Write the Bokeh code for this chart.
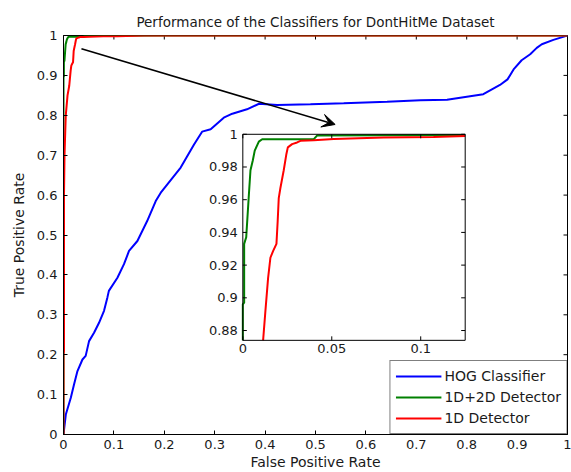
import numpy as np
from bokeh.plotting import figure
from bokeh.models import (Range1d, Legend, LegendItem, Arrow, VeeHead, FixedTicker)
from bokeh.core.properties import value
from bokeh.embed import file_html
from bokeh.resources import INLINE

# ---------------- data ----------------
title_text = "Performance of the Classifiers for DontHitMe Dataset"
x_label = "False Positive Rate"
y_label = "True Positive Rate"
series_names = ["HOG Classifier", "1D+2D Detector", "1D Detector"]

main_ticks = [0, 0.1, 0.2, 0.3, 0.4, 0.5, 0.6, 0.7, 0.8, 0.9, 1]
main_tick_labels = ["0", "0.1", "0.2", "0.3", "0.4", "0.5", "0.6", "0.7", "0.8", "0.9", "1"]

inset_x_domain = [0.0, 0.125]
inset_y_domain = [0.874, 1.0]
inset_x_ticks = [0, 0.05, 0.1]
inset_x_tick_labels = ["0", "0.05", "0.1"]
inset_y_ticks = [0.88, 0.9, 0.92, 0.94, 0.96, 0.98, 1.0]
inset_y_tick_labels = ["0.88", "0.9", "0.92", "0.94", "0.96", "0.98", "1"]

hog_fpr = [0, 0.0046, 0.0145, 0.021, 0.0277, 0.0376, 0.044, 0.0507, 0.0606, 0.0705,
           0.0804, 0.087, 0.09, 0.107, 0.12, 0.13, 0.1466, 0.166, 0.183, 0.193,
           0.2325, 0.259, 0.275, 0.292, 0.318, 0.335, 0.364, 0.388, 0.424, 0.49,
           0.556, 0.642, 0.708, 0.761, 0.833, 0.85, 0.866, 0.881, 0.893, 0.909,
           0.926, 0.939, 0.949, 0.972, 0.998, 1.0]
hog_tpr = [0, 0.05, 0.092, 0.126, 0.159, 0.188, 0.197, 0.234, 0.255, 0.28,
           0.31, 0.343, 0.36, 0.393, 0.427, 0.46, 0.485, 0.535, 0.585, 0.606,
           0.669, 0.727, 0.759, 0.765, 0.794, 0.804, 0.815, 0.829, 0.826, 0.8275,
           0.830, 0.834, 0.838, 0.839, 0.853, 0.865, 0.876, 0.89, 0.915, 0.938,
           0.953, 0.969, 0.978, 0.989, 0.999, 1.0]

det12_fpr = [0, 0, 0.00075, 0.00075, 0.0019, 0.0034, 0.0043, 0.0056, 0.0067, 0.009,
             0.0109, 0.0399, 0.0417, 0.2, 1.0]
det12_tpr = [0, 0.896, 0.897, 0.933, 0.937, 0.963, 0.978, 0.984, 0.990, 0.9955,
             0.997, 0.997, 0.9992, 1.0, 1.0]

det1_fpr = [0, 0, 0.001, 0.001, 0.002, 0.0045, 0.008, 0.0114, 0.0127, 0.0142, 0.0155,
            0.017, 0.0189, 0.0196, 0.0202, 0.0211, 0.023, 0.0245, 0.0253, 0.0277,
            0.0305, 0.0324, 0.0399, 0.0511, 0.0792, 0.1072, 0.16, 1.0]
det1_tpr = [0, 0.2, 0.21, 0.6, 0.7, 0.8, 0.85, 0.874, 0.892, 0.912, 0.9245,
            0.9286, 0.933, 0.947, 0.961, 0.967, 0.978, 0.988, 0.992, 0.994,
            0.995, 0.996, 0.9963, 0.9971, 0.998, 0.9984, 1.0, 1.0]

arrow_from = [0.0356, 0.967]
arrow_to = [0.539, 0.777]

# ---------------- layout / style ----------------
W, H = 571, 472
BL, BR, BT, BB = 63, 4, 35, 38
FRAME_W = W - BL - BR
FRAME_H = H - BT - BB
IX0, IX1 = 0.3558, 0.797      # inset box, fraction of main frame
IY0, IY1 = 0.236, 0.7524
TICK_PX = 4
FONT = "DejaVu Sans"
TXT = "#1a1a1a"
BLUE, GREEN, RED = "#0000ff", "#008000", "#ff0000"
LW = 2

p = figure(width=W, height=H, x_range=Range1d(0, 1), y_range=Range1d(0, 1),
           output_backend="svg", toolbar_location=None,
           min_border_left=BL, min_border_right=BR, min_border_top=BT,
           min_border_bottom=BB, background_fill_color="white",
           border_fill_color="white")
p.outline_line_color = "black"
p.xgrid.grid_line_color = None
p.ygrid.grid_line_color = None

p.title.text = title_text
p.title.align = "center"
p.title.text_font = FONT
p.title.text_font_size = "13.5px"
p.title.text_font_style = "normal"
p.title.text_color = TXT
p.title.standoff = 12

for ax in (p.xaxis[0], p.yaxis[0]):
    ax.ticker = FixedTicker(ticks=main_ticks)
    ax.major_label_overrides = {t: s for t, s in zip(main_ticks, main_tick_labels)}
    ax.major_tick_in = TICK_PX
    ax.major_tick_out = 0
    ax.minor_tick_line_color = None
    ax.axis_line_color = "black"
    ax.major_tick_line_color = "black"
    ax.major_label_text_font = FONT
    ax.major_label_text_font_size = "13px"
    ax.major_label_text_color = TXT
    ax.axis_label_text_font = FONT
    ax.axis_label_text_font_size = "14px"
    ax.axis_label_text_font_style = "normal"
    ax.axis_label_text_color = TXT

xa = p.xaxis[0]
ya = p.yaxis[0]
xa.axis_label = x_label
ya.axis_label = y_label
xa.major_label_standoff = 5
xa.axis_label_standoff = 2
ya.major_label_standoff = 6
ya.axis_label_standoff = 7

# inner ticks on the top and right edges of the main box
mtx = TICK_PX / FRAME_W
mty = TICK_PX / FRAME_H
n = len(main_ticks)
p.segment(x0=main_ticks, x1=main_ticks, y0=[1 - mty] * n, y1=[1] * n,
          line_color="black", line_width=1)
p.segment(x0=[1 - mtx] * n, x1=[1] * n, y0=main_ticks, y1=main_ticks,
          line_color="black", line_width=1)

# ---------------- main curves ----------------
r_hog = p.line(hog_fpr, hog_tpr, line_color=BLUE, line_width=LW)
r_12 = p.line(det12_fpr, det12_tpr, line_color=GREEN, line_width=LW)
r_1 = p.line(det1_fpr, det1_tpr, line_color=RED, line_width=LW)

# ---------------- arrow ----------------
p.add_layout(Arrow(end=VeeHead(size=13, fill_color="black", line_color="black"),
                   x_start=arrow_from[0], y_start=arrow_from[1],
                   x_end=arrow_to[0], y_end=arrow_to[1],
                   line_color="black", line_width=1.6))

# ---------------- inset (extra ranges mapped into a sub-box) ----------------
xd0, xd1 = inset_x_domain
yd0, yd1 = inset_y_domain
sx = (xd1 - xd0) / (IX1 - IX0)
sy = (yd1 - yd0) / (IY1 - IY0)
p.extra_x_ranges = {"ix": Range1d(xd0 - IX0 * sx, xd1 + (1 - IX1) * sx)}
p.extra_y_ranges = {"iy": Range1d(yd0 - IY0 * sy, yd1 + (1 - IY1) * sy)}
kw = dict(x_range_name="ix", y_range_name="iy")

p.quad(left=[xd0], right=[xd1], bottom=[yd0], top=[yd1], fill_color="white",
       line_color=None, **kw)

def clip_monotone(xs, ys, xmax, ymin):
    xs = np.asarray(xs, float)
    ys = np.asarray(ys, float)
    inside = (ys >= ymin) & (xs <= xmax)
    idx = np.where(inside)[0]
    a, b = idx[0], idx[-1]
    ox = list(xs[a:b + 1])
    oy = list(ys[a:b + 1])
    if a > 0 and ys[a] > ymin:
        t = (ymin - ys[a - 1]) / (ys[a] - ys[a - 1])
        ox.insert(0, xs[a - 1] + t * (xs[a] - xs[a - 1]))
        oy.insert(0, ymin)
    if b < len(xs) - 1 and xs[b] < xmax:
        t = (xmax - xs[b]) / (xs[b + 1] - xs[b])
        ox.append(xmax)
        oy.append(ys[b] + t * (ys[b + 1] - ys[b]))
    return ox, oy

gx, gy = clip_monotone(det12_fpr, det12_tpr, xd1, yd0)
rx, ry = clip_monotone(det1_fpr, det1_tpr, xd1, yd0)
p.line(gx, gy, line_color=GREEN, line_width=LW, **kw)
p.line(rx, ry, line_color=RED, line_width=LW, **kw)

p.quad(left=[xd0], right=[xd1], bottom=[yd0], top=[yd1], fill_color=None,
       line_color="black", line_width=1, **kw)

tlx = TICK_PX * sx / FRAME_W
tly = TICK_PX * sy / FRAME_H
yt = list(inset_y_ticks)
xt = list(inset_x_ticks)
p.segment(x0=[xd0] * len(yt), x1=[xd0 + tlx] * len(yt), y0=yt, y1=yt,
          line_color="black", line_width=1, **kw)
p.segment(x0=[xd1 - tlx] * len(yt), x1=[xd1] * len(yt), y0=yt, y1=yt,
          line_color="black", line_width=1, **kw)
p.segment(x0=xt, x1=xt, y0=[yd0] * len(xt), y1=[yd0 + tly] * len(xt),
          line_color="black", line_width=1, **kw)
p.segment(x0=xt, x1=xt, y0=[yd1 - tly] * len(xt), y1=[yd1] * len(xt),
          line_color="black", line_width=1, **kw)

p.text(x=[xd0] * len(yt), y=yt, text=inset_y_tick_labels, x_offset=-5,
       text_align="right", text_baseline="middle", text_font=value(FONT),
       text_font_size="13px", text_color=TXT, **kw)
p.text(x=xt, y=[yd0] * len(xt), text=inset_x_tick_labels, y_offset=4,
       text_align="center", text_baseline="top", text_font=value(FONT),
       text_font_size="13px", text_color=TXT, **kw)

# ---------------- legend ----------------
legend = Legend(items=[LegendItem(label=series_names[0], renderers=[r_hog]),
                       LegendItem(label=series_names[1], renderers=[r_12]),
                       LegendItem(label=series_names[2], renderers=[r_1])],
                location="bottom_right", margin=0, padding=5, spacing=1,
                glyph_width=46, glyph_height=20, label_height=20, label_standoff=3,
                border_line_color="black", border_line_width=1,
                background_fill_color="white", background_fill_alpha=1,
                label_text_font=FONT, label_text_font_size="14px",
                label_text_color=TXT)
p.add_layout(legend)

open("out.html", "w").write(file_html(p, INLINE))
